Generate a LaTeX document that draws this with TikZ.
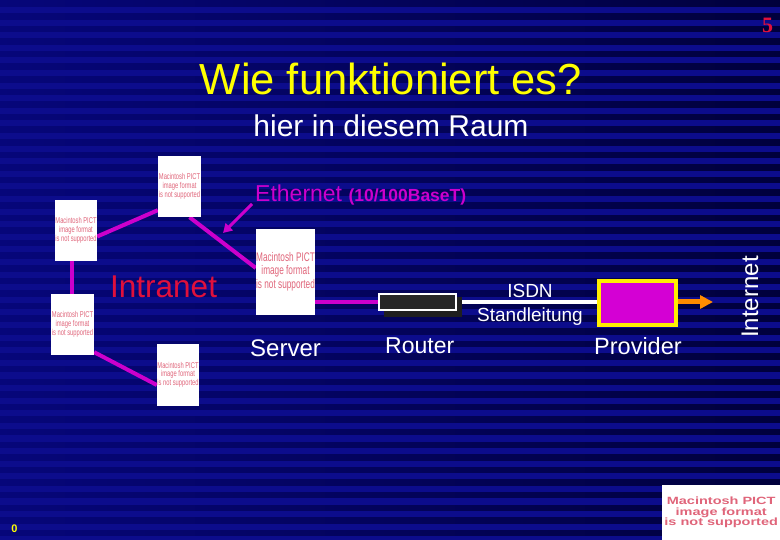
\documentclass[tikz,border=0pt]{standalone}
\usepackage{fontspec}
\setmainfont{Liberation Sans}
\newfontfamily\slidenumfont{Liberation Serif}
\usetikzlibrary{arrows.meta,calc}
\definecolor{bgblue}{HTML}{0C0C8C}
\definecolor{stripeL}{HTML}{06067A}
\definecolor{stripeR}{HTML}{00003C}
\definecolor{netmag}{HTML}{CC00CC}
\definecolor{provmag}{HTML}{D400D4}
\definecolor{provyel}{HTML}{FFEE00}
\definecolor{titleyel}{HTML}{FFFF00}
\definecolor{intrared}{HTML}{E0103C}
\definecolor{pictpink}{HTML}{E0657A}
\definecolor{arroworange}{HTML}{FF8C00}
\pgfdeclarelayer{bg}
\pgfsetlayers{bg,main}
\newcommand\pictlines[3]{\scalebox{#3}[1]{\fontsize{#1}{#2}\selectfont\begin{tabular}{@{}c@{}}Macintosh PICT\\image format\\is not supported\end{tabular}}}
\tikzset{
  pict/.style={fill=white, inner sep=0pt, text=pictpink, align=center},
  smallpict/.style={pict, minimum width=43pt, minimum height=61pt},
  wire/.style={draw=netmag, line width=4pt},
  lbl/.style={text=white, inner sep=0pt},
}
\begin{document}
\begin{tikzpicture}[x=1pt,y=-1pt]
\useasboundingbox (0,0) rectangle (780,540);
\begin{pgfonlayer}{bg}
  \fill[bgblue] (0,0) rectangle (780,540);
  \foreach \i in {0,...,43}{
    \shade[left color=stripeL, right color=stripeR] (0,{\i*12.6+1}) rectangle (780,{\i*12.6+6.5});
  }
\end{pgfonlayer}

% slide number and page mark
\node[text=intrared, inner sep=0pt, font=\slidenumfont\bfseries\fontsize{22}{22}\selectfont] (pnum) at (767.5,25.5) {5};
\node[text=titleyel, inner sep=0pt, font=\bfseries\fontsize{11}{11}\selectfont] (zero) at (14.5,529) {0};

% titles
\node[text=titleyel, inner sep=0pt, anchor=base, font=\fontsize{43.5}{43.5}\selectfont] (title) at (391,95) {Wie funktioniert es?};
\node[lbl, anchor=base, font=\fontsize{30}{30}\selectfont] (sub) at (391,137) {hier in diesem Raum};

% computers
\node[smallpict] (A) at (179.5,186.5) {\raisebox{5pt}{\pictlines{8.5}{8.5}{0.68}}};
\node[smallpict, minimum width=42pt] (B) at (76,230.5) {\raisebox{3pt}{\pictlines{8.5}{8.5}{0.68}}};
\node[smallpict] (C) at (72.5,324.5) {\raisebox{3pt}{\pictlines{8.5}{8.5}{0.68}}};
\node[smallpict, minimum width=42pt] (D) at (178,375) {\raisebox{3pt}{\pictlines{8.5}{8.5}{0.68}}};
\node[pict, minimum width=59pt, minimum height=86pt] (server) at (285.5,272) {\raisebox{5pt}{\pictlines{12.5}{13.5}{0.66}}};
\node[pict, minimum width=118pt, minimum height=55pt, anchor=north west] (bigpict) at (662,485) {\raisebox{-1pt}{\bfseries\pictlines{10.5}{10}{1.38}}};

% labels
\node[text=intrared, inner sep=0pt, anchor=base west, font=\fontsize{31.5}{31.5}\selectfont] (intranet) at (110,298) {Intranet};
\node[text=netmag, inner sep=0pt, anchor=base west, font=\fontsize{23}{23}\selectfont] (eth) at (255,202) {Ethernet {\bfseries\fontsize{17.5}{17.5}\selectfont (10/100BaseT)}};
\node[lbl, anchor=base west, font=\fontsize{24}{24}\selectfont] (serverlbl) at (250,356) {Server};
\node[lbl, anchor=base west, font=\fontsize{23}{23}\selectfont] (routerlbl) at (385,354) {Router};
\node[lbl, anchor=base west, font=\fontsize{23.5}{23.5}\selectfont] (providerlbl) at (594,355) {Provider};
\node[lbl, anchor=base, font=\fontsize{19}{19}\selectfont] (isdn) at (530,298) {ISDN};
\node[lbl, anchor=base, font=\fontsize{19}{19}\selectfont] (standl) at (530,322) {Standleitung};
\node[lbl, rotate=90, font=\fontsize{24}{24}\selectfont] (internet) at (750,297) {Internet};

% router and provider
\fill[black!88] (384,297) rectangle (462,317);
\node[draw=white, line width=2pt, fill=black!85, minimum width=77pt, minimum height=16pt, inner sep=0pt] (router) at (417.5,302) {};
\node[draw=provyel, line width=4pt, fill=provmag, minimum width=77pt, minimum height=44pt, inner sep=0pt] (provider) at (637.5,303.5) {};
\coordinate (inet) at (713,302);
\coordinate (ethtip) at (223,233);

% connectors
\begin{pgfonlayer}{bg}
  \draw[wire] ([yshift=-6pt]B.east) -- ([yshift=7pt]A.south west);
  \draw[wire] ([xshift=10pt]A.south) -- ([yshift=4pt]server.west);
  \draw[wire] ([xshift=-4pt]B.south) -- ([xshift=-4pt]B.south |- C.north);
  \draw[wire] ([yshift=3pt]C.south east) -- ([yshift=-10pt]D.west);
  \draw[wire] (server.east |- router.west) -- (router.west);
  \draw[white, line width=4pt] (router.east) -- (router.east -| provider.west);
\end{pgfonlayer}
\draw[netmag, line width=3pt, -{Triangle[width=10pt,length=9pt]}] ([xshift=-3pt,yshift=-2pt]eth.base west) -- (ethtip);
\draw[arroworange, line width=5pt, -{Triangle[width=13pt,length=13pt]}] (provider.east |- inet) -- (inet);
\end{tikzpicture}
\end{document}
